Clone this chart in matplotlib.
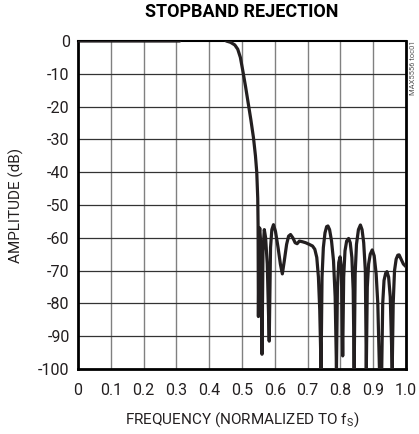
import matplotlib
matplotlib.use("Agg")
import matplotlib.pyplot as plt

# Frequency response (x normalised to fS, y in dB)
freq = [
    0.000, 0.310, 0.318, 0.440, 0.452, 0.465, 0.478, 0.487, 0.495, 0.502,
    0.511, 0.519, 0.527, 0.535, 0.541, 0.545, 0.548, 0.549, 0.550,
    0.552, 0.554, 0.556, 0.558, 0.561, 0.564, 0.568, 0.572, 0.577, 0.583,
    0.587, 0.591, 0.596, 0.602, 0.610, 0.617, 0.623, 0.629, 0.636, 0.642,
    0.648, 0.655, 0.662, 0.668, 0.675, 0.684, 0.694, 0.705, 0.715, 0.722,
    0.728, 0.733, 0.737, 0.741,
    0.744, 0.748, 0.753, 0.758, 0.762, 0.767, 0.773, 0.779, 0.784, 0.788,
    0.791, 0.795, 0.799, 0.803, 0.807,
    0.810, 0.814, 0.819, 0.825, 0.830, 0.835, 0.839, 0.842,
    0.845, 0.849, 0.855, 0.861, 0.866, 0.871, 0.876, 0.879,
    0.882, 0.886, 0.891, 0.897, 0.903, 0.909, 0.914, 0.919, 0.926,
    0.929, 0.933, 0.938, 0.942, 0.947, 0.952, 0.958,
    0.961, 0.965, 0.970, 0.975, 0.979, 0.985, 0.992, 1.000,
]
amp = [
    0.0, 0.0, 1.5, 1.5, 0.0, -0.4, -1.2, -2.5, -5.0, -8.8,
    -14.0, -19.0, -24.0, -29.5, -35.0, -40.0, -48.0, -56.0, -84.0,
    -60.0, -57.0, -60.0, -70.0, -95.5, -64.0, -57.5, -60.0, -68.0, -91.5,
    -63.0, -57.5, -56.0, -58.0, -63.0, -68.0, -71.0, -67.0, -62.0, -59.5,
    -59.0, -60.0, -61.5, -61.8, -61.0, -61.2, -61.5, -62.0, -62.5, -63.5,
    -66.0, -72.0, -82.0, -100.0,
    -72.0, -63.0, -58.5, -56.6, -56.4, -57.5, -61.0, -67.0, -78.0, -100.0,
    -75.0, -67.5, -65.8, -69.0, -96.0,
    -72.0, -64.0, -61.0, -60.2, -61.5, -66.0, -76.0, -100.0,
    -71.0, -62.0, -57.5, -56.1, -57.5, -61.5, -70.0, -100.0,
    -75.0, -68.0, -65.0, -63.7, -65.5, -71.0, -80.0, -100.0, -100.0,
    -80.0, -73.0, -70.8, -70.3, -72.0, -78.0, -100.0,
    -80.0, -70.0, -66.5, -65.3, -65.2, -66.5, -68.0, -68.8,
]

x_ticks = [0, 0.1, 0.2, 0.3, 0.4, 0.5, 0.6, 0.7, 0.8, 0.9, 1.0]
x_labels = ["0", "0.1", "0.2", "0.3", "0.4", "0.5", "0.6", "0.7", "0.8", "0.9", "1.0"]
y_ticks = [0, -10, -20, -30, -40, -50, -60, -70, -80, -90, -100]

plt.rcParams["font.family"] = ["Roboto", "DejaVu Sans"]
plt.rcParams["mathtext.fontset"] = "custom"
plt.rcParams["mathtext.rm"] = "Roboto"
plt.rcParams["axes.unicode_minus"] = False

fig = plt.figure(figsize=(4.19, 4.34), dpi=100)
ax = fig.add_axes([78 / 419, 1 - 369 / 434, 328 / 419, 328 / 434])

# grid: vertical grey, horizontal darker
for xv in x_ticks[1:-1]:
    ax.axvline(xv, color="#808080", lw=1.0, zorder=1)
for yv in y_ticks[1:-1]:
    ax.axhline(yv, color="#333333", lw=0.9, zorder=1)

ax.plot(freq, amp, color="#231f20", lw=2.3, zorder=5, solid_joinstyle="round")

ax.set_xlim(0, 1.0)
ax.set_ylim(-100, 0)
ax.set_xticks(x_ticks)
ax.set_xticklabels(x_labels)
ax.set_yticks(y_ticks)
ax.tick_params(length=0, labelsize=11.5, colors="#231f20")
ax.tick_params(axis="x", pad=10)
ax.tick_params(axis="y", pad=6)
for s in ax.spines.values():
    s.set_linewidth(2.0)
    s.set_color("black")
    s.set_zorder(4)
ax.spines["top"].set_linewidth(1.5)

ax.set_xlabel(r"FREQUENCY (NORMALIZED TO f$_\mathregular{S}$)", fontsize=11, color="#231f20")
ax.xaxis.set_label_coords(0.5, -0.125)
ax.set_ylabel("AMPLITUDE (dB)", fontsize=11, color="#231f20")
ax.yaxis.set_label_coords(-0.165, 0.5)

fig.text(242 / 419, 1 - 12 / 434, "STOPBAND REJECTION", ha="center", va="center",
         fontsize=13, fontweight="bold", color="black")
fig.text(413 / 419, 1 - 40 / 434, "MAX5556 toc01", rotation=90, ha="center", va="top",
         fontsize=5.5, color="#555555")

fig.savefig("out.png", dpi=100)
